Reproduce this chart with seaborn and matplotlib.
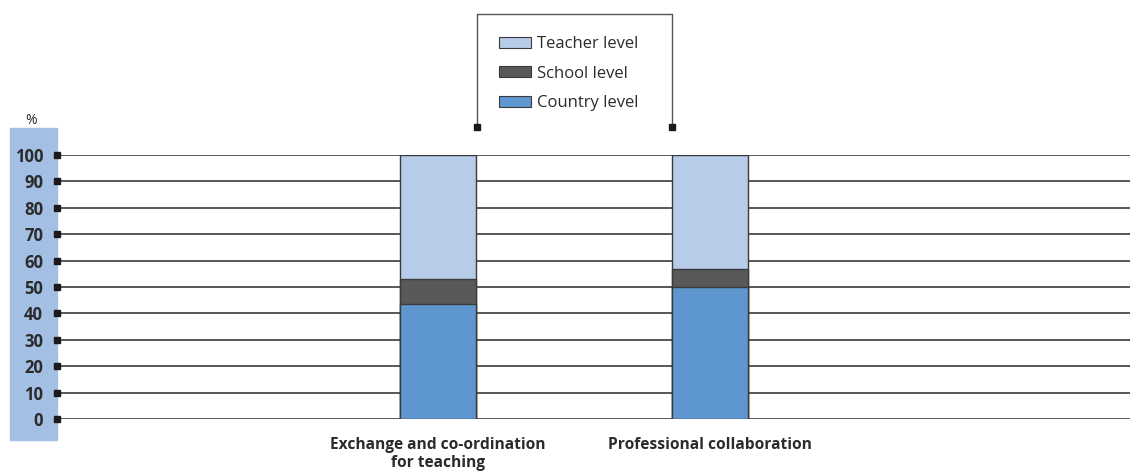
import numpy as np
import pandas as pd
import matplotlib
matplotlib.use('Agg')
import matplotlib.pyplot as plt
import matplotlib.patches as mpatches
import matplotlib.lines as mlines
import seaborn as sns

# data
categories = ['Exchange and co-ordination\nfor teaching', 'Professional collaboration']
country = [43.5, 50.0]
school = [9.5, 7.0]
teacher = [47.0, 43.0]
series = ['Teacher level', 'School level', 'Country level']
colors = {'Teacher level': '#b7cce8', 'School level': '#58595b', 'Country level': '#5e97cf'}
yticks = list(range(0, 101, 10))

sns.set_theme(style='white')
plt.rcParams['font.family'] = ['Open Sans', 'DejaVu Sans']

df = pd.DataFrame({'cat': categories, 'Country level': country,
                   'School level': school, 'Teacher level': teacher})
df['c1'] = df['Country level']
df['c2'] = df['c1'] + df['School level']
df['c3'] = df['c2'] + df['Teacher level']

fig = plt.figure(figsize=(11.3, 4.72), dpi=100)
W, H = 1130, 472
ax = fig.add_axes([57 / W, 1 - 419 / H, 1 - 57 / W, (419 - 155) / H])
ax.set_zorder(1)
ax.patch.set_alpha(0)

# blue band behind y tick labels
fig.patches.append(mpatches.Rectangle((10 / W, 1 - 440 / H), 47 / W, 312 / H,
                                      transform=fig.transFigure, color='#a3bfe3', zorder=-1))

for y in yticks:
    ax.axhline(y, color='#4a4a4a', lw=1.3, zorder=0)

bw = 76 / 272
for col, s in [('c3', 'Teacher level'), ('c2', 'School level'), ('c1', 'Country level')]:
    sns.barplot(data=df, x='cat', y=col, order=categories, color=colors[s],
                width=bw, edgecolor='#3a3a3a', linewidth=1.0, saturation=1, ax=ax, zorder=2)

ax.set_xlim(-381 / 272, 1 + 420 / 272)
ax.set_ylim(0, 100)
ax.set_yticks(yticks)
ax.set_yticklabels([str(t) for t in yticks], fontsize=12, fontweight='bold', color='#2b2b2b')
ax.tick_params(axis='y', length=0, pad=10)
ax.set_xlabel('')
ax.set_ylabel('')
ax.tick_params(axis='x', length=0, pad=13)
for lab in ax.get_xticklabels():
    lab.set_fontsize(11.2)
    lab.set_fontweight('bold')
    lab.set_color('#2b2b2b')
    lab.set_linespacing(1.2)
for sp in ax.spines.values():
    sp.set_visible(False)

# small square tick markers
for y in yticks:
    ax.plot([0], [y], marker='s', ms=4, color='#1a1a1a', transform=ax.get_yaxis_transform(),
            clip_on=False, zorder=5)

fig.text(31 / W, 1 - 120 / H, '%', ha='center', va='center', fontsize=10, color='#2b2b2b')

# legend box: top, left, right lines with end squares
lx0, lx1, ly0, ly1 = 477 / W, 672 / W, 1 - 127 / H, 1 - 14 / H
for xs, ys in [([lx0, lx1], [ly1, ly1]), ([lx0, lx0], [ly0, ly1]), ([lx1, lx1], [ly0, ly1])]:
    fig.add_artist(mlines.Line2D(xs, ys, color='#555555', lw=1.0, transform=fig.transFigure))
for xx in [lx0, lx1]:
    fig.add_artist(mlines.Line2D([xx], [ly0], marker='s', ms=4, color='#1a1a1a',
                                 transform=fig.transFigure))

handles = [mpatches.Patch(facecolor=colors[s], edgecolor='#3a3a3a', lw=0.8, label=s) for s in series]
fig.legend(handles=handles, loc='upper left', bbox_to_anchor=(484 / W, 1 - 21 / H),
           frameon=False, fontsize=12, handlelength=1.9, handleheight=0.65,
           labelspacing=0.82, handletextpad=0.4, labelcolor='#2b2b2b')

fig.savefig('out.png', dpi=100)
